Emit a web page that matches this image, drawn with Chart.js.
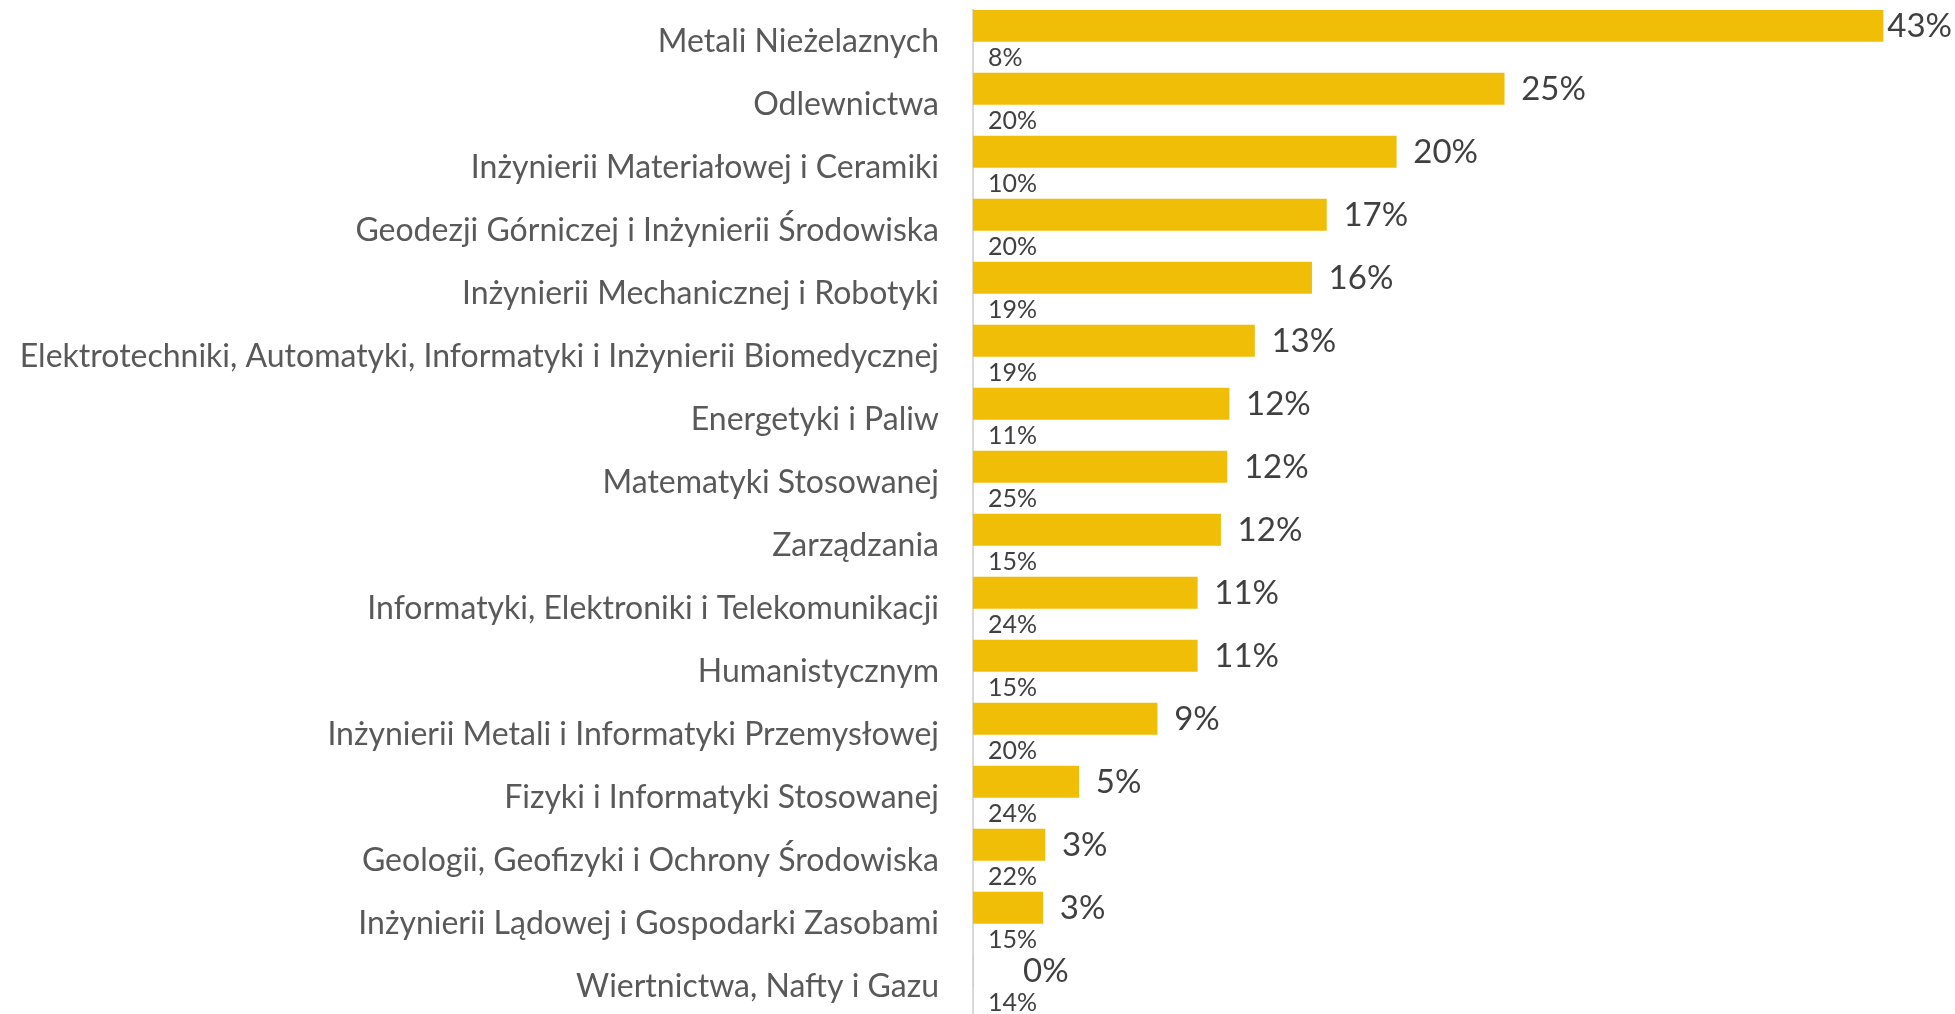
<!DOCTYPE html>
<html>
<head>
<meta charset="utf-8">
<script src="https://cdn.jsdelivr.net/npm/chart.js@4.4.0/dist/chart.umd.min.js"></script>
<style>
html,body{margin:0;padding:0;background:#fff;overflow:hidden;}
#wrap{position:relative;width:1955px;height:1020px;}
</style>
</head>
<body>
<div id="wrap"><canvas id="c"></canvas></div>
<script>
const categories = [
  "Metali Nieżelaznych",
  "Odlewnictwa",
  "Inżynierii Materiałowej i Ceramiki",
  "Geodezji Górniczej i Inżynierii Środowiska",
  "Inżynierii Mechanicznej i Robotyki",
  "Elektrotechniki, Automatyki, Informatyki i Inżynierii Biomedycznej",
  "Energetyki i Paliw",
  "Matematyki Stosowanej",
  "Zarządzania",
  "Informatyki, Elektroniki i Telekomunikacji",
  "Humanistycznym",
  "Inżynierii Metali i Informatyki Przemysłowej",
  "Fizyki i Informatyki Stosowanej",
  "Geologii, Geofizyki i Ochrony Środowiska",
  "Inżynierii Lądowej i Gospodarki Zasobami",
  "Wiertnictwa, Nafty i Gazu"
];
const seriesMain = [43.0, 25.1, 20.0, 16.7, 16.0, 13.3, 12.1, 12.0, 11.7, 10.6, 10.6, 8.7, 5.0, 3.4, 3.3, 0];
const seriesSecond = [8, 20, 10, 20, 19, 19, 11, 25, 15, 24, 15, 20, 24, 22, 15, 14];

const labelPlugin = {
  id: 'valueLabels',
  afterDatasetsDraw(chart) {
    const ctx = chart.ctx;
    const W = chart.width;
    ctx.save();
    ctx.textBaseline = 'middle';
    ctx.textAlign = 'left';
    const m0 = chart.getDatasetMeta(0);
    ctx.font = '33px Lato';
    ctx.fillStyle = '#404040';
    m0.data.forEach((el, i) => {
      const v = seriesMain[i];
      const txt = Math.round(v) + '%';
      let x = el.x + (v === 0 ? 50 : 17);
      const w = ctx.measureText(txt).width;
      if (x + w > W - 3) x = Math.max(el.x + 3, W - 3 - w);
      ctx.fillText(txt, x, el.y + 1);
    });
    const m1 = chart.getDatasetMeta(1);
    ctx.font = '25px Lato';
    ctx.fillStyle = '#404040';
    m1.data.forEach((el, i) => {
      const txt = seriesSecond[i] + '%';
      ctx.fillText(txt, el.base + 15, el.y + 1);
    });
    ctx.restore();
  }
};

new Chart(document.getElementById('c'), {
  type: 'bar',
  data: {
    labels: categories,
    datasets: [
      { data: seriesMain, backgroundColor: '#F0BE06', borderWidth: 0, barPercentage: 1, categoryPercentage: 1 },
      { data: seriesSecond, backgroundColor: 'rgba(255,255,255,0)', borderWidth: 0, barPercentage: 1, categoryPercentage: 1 }
    ]
  },
  options: {
    indexAxis: 'y',
    responsive: true,
    maintainAspectRatio: false,
    animation: false,
    events: [],
    layout: { padding: { top: 10, bottom: 2, left: 0, right: 0 } },
    plugins: { legend: { display: false }, tooltip: { enabled: false } },
    scales: {
      x: { display: false, min: 0, max: 46.4 },
      y: {
        grid: { display: false, drawTicks: false },
        border: { display: true, color: '#d9d9d9', width: 2 },
        ticks: { color: '#595959', font: { family: 'Lato', size: 32 }, padding: 34, autoSkip: false },
        afterFit(scale) { scale.width = 973; scale.paddingTop = 0; scale.paddingBottom = 0; }
      }
    }
  },
  plugins: [labelPlugin]
});
</script>
</body>
</html>
